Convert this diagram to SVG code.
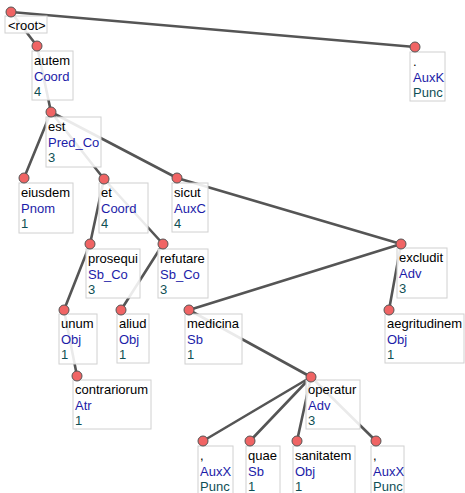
<svg xmlns="http://www.w3.org/2000/svg" width="465" height="493" viewBox="0 0 465 493">
<style>
.e{stroke:#555;stroke-width:2.6;fill:none;stroke-linecap:round}
.b{fill:#fff;fill-opacity:0.88;stroke:#d0d0d0;stroke-width:1}
.c{fill:#f06464;stroke:#555;stroke-width:1}
text{font-family:"Liberation Sans",Arial,sans-serif;font-size:13px}
.f{fill:#000}
.a{fill:#1c1ca8}
.o{fill:#0f4f55}
</style>
<rect width="465" height="493" fill="#fff"/>
<g id="connectors">
<line class="e" x1="11" y1="12" x2="37" y2="46"/>
<line class="e" x1="11" y1="12" x2="415" y2="47"/>
<line class="e" x1="37" y1="46" x2="51" y2="112"/>
<line class="e" x1="51" y1="112" x2="24" y2="178"/>
<line class="e" x1="51" y1="112" x2="104" y2="179"/>
<line class="e" x1="51" y1="112" x2="177" y2="178"/>
<line class="e" x1="104" y1="179" x2="90" y2="244"/>
<line class="e" x1="104" y1="179" x2="163" y2="244"/>
<line class="e" x1="177" y1="178" x2="401" y2="244"/>
<line class="e" x1="90" y1="244" x2="64" y2="310"/>
<line class="e" x1="163" y1="244" x2="121" y2="310"/>
<line class="e" x1="401" y1="244" x2="189" y2="310"/>
<line class="e" x1="401" y1="244" x2="389" y2="310"/>
<line class="e" x1="64" y1="310" x2="77" y2="376"/>
<line class="e" x1="189" y1="310" x2="311" y2="377"/>
<line class="e" x1="311" y1="377" x2="203" y2="441"/>
<line class="e" x1="311" y1="377" x2="250" y2="441"/>
<line class="e" x1="311" y1="377" x2="297" y2="441"/>
<line class="e" x1="311" y1="377" x2="376" y2="441"/>
</g>
<g id="n-root"><rect class="b" x="5" y="16" width="42" height="17"/><text class="f" x="8" y="30">&lt;root&gt;</text></g>
<g id="n-autem"><rect class="b" x="32" y="51" width="41" height="49"/><text class="f" x="34" y="65">autem</text><text class="a" x="34" y="81">Coord</text><text class="o" x="34" y="96">4</text></g>
<g id="n-period"><rect class="b" x="410" y="52" width="35" height="49"/><text class="f" x="413" y="66">.</text><text class="a" x="413" y="82">AuxK</text><text class="o" x="413" y="97">Punc</text></g>
<g id="n-est"><rect class="b" x="46" y="117" width="55" height="50"/><text class="f" x="48" y="131">est</text><text class="a" x="48" y="147">Pred_Co</text><text class="o" x="48" y="162">3</text></g>
<g id="n-eiusdem"><rect class="b" x="19" y="183" width="54" height="50"/><text class="f" x="21" y="197">eiusdem</text><text class="a" x="21" y="213">Pnom</text><text class="o" x="21" y="228">1</text></g>
<g id="n-et"><rect class="b" x="99" y="183" width="49" height="50"/><text class="f" x="101" y="197">et</text><text class="a" x="101" y="213">Coord</text><text class="o" x="101" y="228">4</text></g>
<g id="n-sicut"><rect class="b" x="172" y="183" width="36" height="49"/><text class="f" x="174" y="197">sicut</text><text class="a" x="174" y="213">AuxC</text><text class="o" x="174" y="228">4</text></g>
<g id="n-prosequi"><rect class="b" x="86" y="249" width="54" height="49"/><text class="f" x="88" y="263">prosequi</text><text class="a" x="88" y="279">Sb_Co</text><text class="o" x="88" y="294">3</text></g>
<g id="n-refutare"><rect class="b" x="158" y="249" width="50" height="49"/><text class="f" x="160" y="263">refutare</text><text class="a" x="160" y="279">Sb_Co</text><text class="o" x="160" y="294">3</text></g>
<g id="n-excludit"><rect class="b" x="397" y="248" width="50" height="50"/><text class="f" x="399" y="262">excludit</text><text class="a" x="399" y="278">Adv</text><text class="o" x="399" y="293">3</text></g>
<g id="n-unum"><rect class="b" x="59" y="314" width="38" height="50"/><text class="f" x="61" y="328">unum</text><text class="a" x="61" y="344">Obj</text><text class="o" x="61" y="359">1</text></g>
<g id="n-aliud"><rect class="b" x="117" y="314" width="32" height="49"/><text class="f" x="119" y="328">aliud</text><text class="a" x="119" y="344">Obj</text><text class="o" x="119" y="359">1</text></g>
<g id="n-medicina"><rect class="b" x="185" y="314" width="57" height="50"/><text class="f" x="187" y="328">medicina</text><text class="a" x="187" y="344">Sb</text><text class="o" x="187" y="359">1</text></g>
<g id="n-aegritudinem"><rect class="b" x="385" y="314" width="79" height="49"/><text class="f" x="387" y="328">aegritudinem</text><text class="a" x="387" y="344">Obj</text><text class="o" x="387" y="359">1</text></g>
<g id="n-contrariorum"><rect class="b" x="73" y="380" width="78" height="49"/><text class="f" x="75" y="394">contrariorum</text><text class="a" x="75" y="410">Atr</text><text class="o" x="75" y="425">1</text></g>
<g id="n-operatur"><rect class="b" x="306" y="380" width="54" height="49"/><text class="f" x="308" y="394">operatur</text><text class="a" x="308" y="410">Adv</text><text class="o" x="308" y="425">3</text></g>
<g id="n-comma1"><rect class="b" x="198" y="446" width="35" height="50"/><text class="f" x="200" y="460">,</text><text class="a" x="200" y="476">AuxX</text><text class="o" x="200" y="491">Punc</text></g>
<g id="n-quae"><rect class="b" x="246" y="446" width="34" height="50"/><text class="f" x="248" y="460">quae</text><text class="a" x="248" y="476">Sb</text><text class="o" x="248" y="491">1</text></g>
<g id="n-sanitatem"><rect class="b" x="293" y="446" width="62" height="50"/><text class="f" x="295" y="460">sanitatem</text><text class="a" x="295" y="476">Obj</text><text class="o" x="295" y="491">1</text></g>
<g id="n-comma2"><rect class="b" x="371" y="446" width="33" height="50"/><text class="f" x="373" y="460">,</text><text class="a" x="373" y="476">AuxX</text><text class="o" x="373" y="491">Punc</text></g>
<g id="dots">
<circle class="c" cx="11" cy="12" r="5"/>
<circle class="c" cx="37" cy="46" r="5"/>
<circle class="c" cx="415" cy="47" r="5"/>
<circle class="c" cx="51" cy="112" r="5"/>
<circle class="c" cx="24" cy="178" r="5"/>
<circle class="c" cx="104" cy="179" r="5"/>
<circle class="c" cx="177" cy="178" r="5"/>
<circle class="c" cx="90" cy="244" r="5"/>
<circle class="c" cx="163" cy="244" r="5"/>
<circle class="c" cx="401" cy="244" r="5"/>
<circle class="c" cx="64" cy="310" r="5"/>
<circle class="c" cx="121" cy="310" r="5"/>
<circle class="c" cx="189" cy="310" r="5"/>
<circle class="c" cx="389" cy="310" r="5"/>
<circle class="c" cx="77" cy="376" r="5"/>
<circle class="c" cx="311" cy="377" r="5"/>
<circle class="c" cx="203" cy="441" r="5"/>
<circle class="c" cx="250" cy="441" r="5"/>
<circle class="c" cx="297" cy="441" r="5"/>
<circle class="c" cx="376" cy="441" r="5"/>
</g>
</svg>
